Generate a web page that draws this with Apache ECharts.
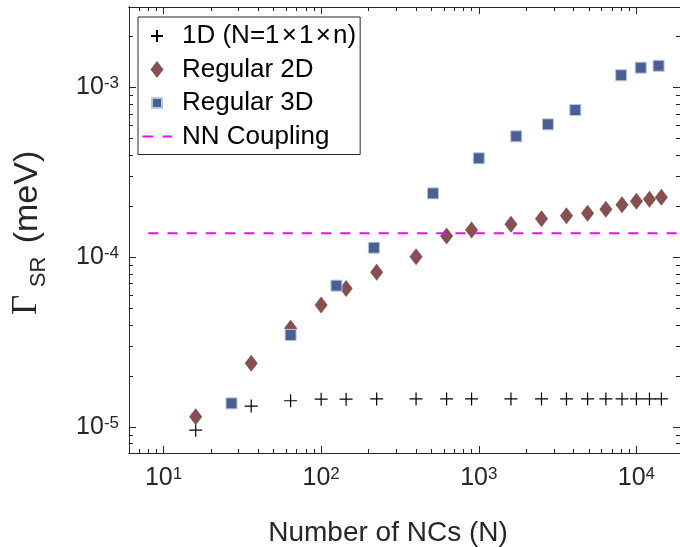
<!DOCTYPE html>
<html>
<head>
<meta charset="utf-8">
<script src="https://cdn.jsdelivr.net/npm/echarts@6/dist/echarts.min.js"></script>
<style>
  html, body { margin: 0; padding: 0; background: #fff; }
  #chart { width: 680px; height: 547px; }
</style>
</head>
<body>
<div id="chart"></div>
<script>
// Number of nanocrystals for the chain and square arrays (N = n x n)
const nn2D = [16, 36, 64, 100, 144, 225, 400, 625, 900, 1600, 2500, 3600, 4900, 6400, 8100, 10000, 12100, 14400];
// Superradiant rate (meV) for the 1D chain (N = 1 x 1 x n)
const gamma1D = [9.6e-6, 1.33e-5, 1.43e-5, 1.46e-5, 1.46e-5, 1.465e-5, 1.465e-5, 1.465e-5, 1.465e-5,
                 1.465e-5, 1.465e-5, 1.465e-5, 1.465e-5, 1.465e-5, 1.465e-5, 1.465e-5, 1.465e-5, 1.465e-5];
// Superradiant rate (meV) for regular 2D arrays
const gamma2D = [1.15e-5, 2.38e-5, 3.82e-5, 5.23e-5, 6.56e-5, 8.16e-5, 1.008e-4, 1.334e-4, 1.448e-4,
                 1.564e-4, 1.687e-4, 1.757e-4, 1.815e-4, 1.918e-4, 2.04e-4, 2.138e-4, 2.196e-4, 2.255e-4];
// Cubic arrays (N = n x n x n)
const nn3D = [27, 64, 125, 216, 512, 1000, 1728, 2744, 4096, 8000, 10648, 13824];
const gamma3D = [1.38e-5, 3.49e-5, 6.81e-5, 1.139e-4, 2.38e-4, 3.83e-4, 5.16e-4, 6.07e-4, 7.37e-4,
                 1.181e-3, 1.309e-3, 1.343e-3];
// Nearest-neighbour coupling reference level (meV) and its horizontal span
const nnCoupling = 1.384e-4;
const couplingSpan = [8, 19000];

// Axis ranges and labelled decades
const xRange = [6.04, 18900];
const yRange = [7.04e-6, 2.98e-3];
const xMajor = [10, 100, 1000, 10000];
const yMajor = [1e-5, 1e-4, 1e-3];

// Minor ticks at 2..9 x 10^k inside each range
function minorTicks(range) {
  const out = [];
  for (let k = Math.floor(Math.log10(range[0])); k <= Math.ceil(Math.log10(range[1])); k++) {
    for (let m = 2; m <= 9; m++) {
      const v = m * Math.pow(10, k);
      if (v >= range[0] && v <= range[1]) out.push(v);
    }
  }
  return out;
}
const xMinor = minorTicks(xRange);
const yMinor = minorTicks(yRange);

const AXIS_COLOR = '#262626';
const FONT = '"Liberation Sans", Arial, Helvetica, sans-serif';

const powRich = {
  b: { fontSize: 25, fontFamily: FONT, color: AXIS_COLOR, lineHeight: 25, verticalAlign: 'bottom', padding: [6, 0, 0, 0] },
  e: { fontSize: 17, fontFamily: FONT, color: AXIS_COLOR, lineHeight: 17, verticalAlign: 'top' }
};
function powLabel(v) {
  const e = Math.round(Math.log10(v));
  return '{b|10}{e|' + e + '}';
}

function logAxis(range, position, ticks, tickLen, labels) {
  const ax = {
    type: 'log',
    logBase: 10,
    min: range[0],
    max: range[1],
    position: position,
    splitLine: { show: false },
    minorTick: { show: false },
    axisLine: { show: true, onZero: false, lineStyle: { color: AXIS_COLOR, width: 1 } },
    axisTick: { show: true, inside: true, length: tickLen, customValues: ticks,
                lineStyle: { color: AXIS_COLOR, width: 1 } },
    axisLabel: { show: false }
  };
  if (labels) {
    ax.axisLabel = {
      show: true,
      customValues: labels.values,
      margin: labels.margin,
      formatter: powLabel,
      rich: powRich
    };
  }
  return ax;
}

const CHAIN = '1D (N=1\u200A×\u200A1\u200A×\u200An)';
const plusSymbol = 'path://M0,6 H12 M6,0 V12';
const plusIcon = 'path://M0,0 M17,17 M2.5,8.5 H14.5 M8.5,2.5 V14.5';
const diamondIcon = 'path://M0,0 M17,17 M8.5,0 L15,8.5 L8.5,17 L2,8.5 Z';
const squareIcon = 'path://M0,0 M17,17 M3.5,3.5 H13.5 V13.5 H3.5 Z';
const dashIcon = 'path://M0,0 M30,17 M0.5,7.5 H11 V9.5 H0.5 Z M20.5,7.5 H30 V9.5 H20.5 Z';

const chart = echarts.init(document.getElementById('chart'), null, { renderer: 'canvas' });

chart.setOption({
  animation: false,
  backgroundColor: '#fff',
  grid: { left: 129, right: 0, top: 7, bottom: 94, containLabel: false },
  xAxis: [
    logAxis(xRange, 'bottom', xMajor, 7, { values: xMajor, margin: 13 }),
    logAxis(xRange, 'bottom', xMinor, 4),
    logAxis(xRange, 'top', xMajor, 7),
    logAxis(xRange, 'top', xMinor, 4)
  ],
  yAxis: [
    logAxis(yRange, 'left', yMajor, 7, { values: yMajor, margin: 10 }),
    logAxis(yRange, 'left', yMinor, 4),
    logAxis(yRange, 'right', yMajor, 7),
    logAxis(yRange, 'right', yMinor, 4)
  ],
  legend: {
    orient: 'vertical',
    left: 138,
    top: 17,
    padding: [6, 4, 5, 4],
    itemGap: 7.5,
    itemWidth: 30,
    itemHeight: 17,
    symbolKeepAspect: true,
    selectedMode: false,
    backgroundColor: '#fff',
    borderColor: AXIS_COLOR,
    borderWidth: 1,
    borderRadius: 0,
    textStyle: { fontSize: 26, color: '#000', fontFamily: FONT, padding: [0, 0, 0, 5] },
    data: [
      { name: CHAIN, icon: plusIcon },
      { name: 'Regular 2D', icon: diamondIcon },
      { name: 'Regular 3D', icon: squareIcon },
      { name: 'NN Coupling', icon: dashIcon }
    ]
  },
  series: [
    {
      name: CHAIN,
      type: 'scatter',
      data: nn2D.map((n, i) => [n, gamma1D[i]]),
      symbol: plusSymbol,
      symbolSize: 13,
      itemStyle: { color: '#000', borderColor: '#000', borderWidth: 1.2, opacity: 1 },
      emphasis: { disabled: true }
    },
    {
      name: 'Regular 2D',
      type: 'scatter',
      data: nn2D.map((n, i) => [n, gamma2D[i]]),
      symbol: 'diamond',
      symbolSize: [13, 17],
      itemStyle: { color: '#874f50', opacity: 1 },
      emphasis: { disabled: true }
    },
    {
      name: 'Regular 3D',
      type: 'scatter',
      data: nn3D.map((n, i) => [n, gamma3D[i]]),
      symbol: 'rect',
      symbolSize: 11,
      itemStyle: { color: '#4a5f92', borderColor: '#b9c6e0', borderWidth: 1, opacity: 1 },
      emphasis: { disabled: true }
    },
    {
      name: 'NN Coupling',
      type: 'line',
      data: couplingSpan.map(n => [n, nnCoupling]),
      symbol: 'none',
      color: '#ff00ff',
      itemStyle: { color: '#ff00ff' },
      lineStyle: { color: '#ff00ff', width: 2, type: [10, 9.2] },
      emphasis: { disabled: true },
      z: 3
    }
  ],
  graphic: [
    {
      type: 'text', x: 388, y: 533,
      style: { text: 'Number of NCs (N)', fontSize: 28, fontFamily: FONT, fill: AXIS_COLOR,
               textAlign: 'center', textVerticalAlign: 'middle' }
    },
    {
      type: 'text', x: 27, y: 305, rotation: Math.PI / 2,
      style: { text: 'Γ', fontSize: 35, fontFamily: '"Liberation Serif", "Times New Roman", serif', fill: AXIS_COLOR,
               textAlign: 'center', textVerticalAlign: 'middle' }
    },
    {
      type: 'text', x: 39, y: 272, rotation: Math.PI / 2,
      style: { text: 'SR', fontSize: 22, fontFamily: FONT, fill: AXIS_COLOR,
               textAlign: 'center', textVerticalAlign: 'middle' }
    },
    {
      type: 'text', x: 28, y: 197, rotation: Math.PI / 2,
      style: { text: '(meV)', fontSize: 34, fontFamily: FONT, fill: AXIS_COLOR,
               textAlign: 'center', textVerticalAlign: 'middle' }
    }
  ]
});
</script>
</body>
</html>
